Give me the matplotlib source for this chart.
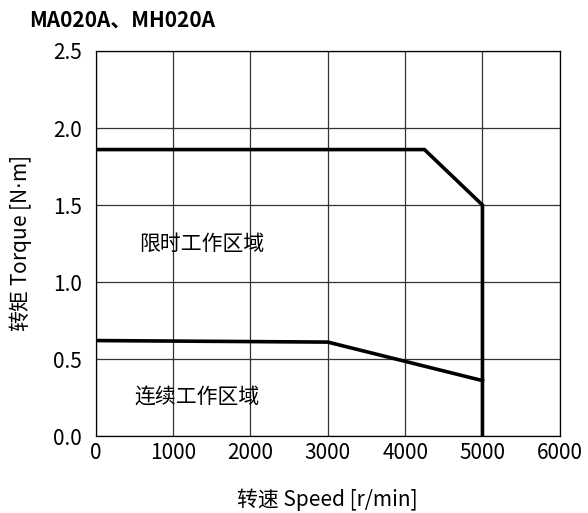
import matplotlib
matplotlib.use('Agg')
import matplotlib.pyplot as plt

plt.rcParams['font.family'] = ['Noto Sans CJK SC', 'DejaVu Sans']

# 转矩-转速特性数据
limit_speed = [0, 4250, 5000, 5000]
limit_torque = [1.86, 1.86, 1.50, 0.0]
cont_speed = [0, 3000, 5000]
cont_torque = [0.62, 0.61, 0.36]

x_ticks = [0, 1000, 2000, 3000, 4000, 5000, 6000]
y_ticks = [0.0, 0.5, 1.0, 1.5, 2.0, 2.5]

fig = plt.figure(figsize=(5.88, 5.13), dpi=100)
ax = fig.add_axes([0.163, 0.150, 0.789, 0.7506])

ax.plot(limit_speed, limit_torque, color='black', lw=2.6, solid_joinstyle='miter', zorder=3)
ax.plot(cont_speed, cont_torque, color='black', lw=2.6, solid_joinstyle='miter', zorder=3)

ax.set_xlim(0, 6000)
ax.set_ylim(0, 2.5)
ax.set_xticks(x_ticks)
ax.set_yticks(y_ticks)
ax.set_yticklabels([f'{v:.1f}' for v in y_ticks])
ax.grid(True, color='#333333', lw=0.9)
ax.tick_params(axis='both', length=0, labelsize=15)
ax.tick_params(axis='x', pad=4)
ax.tick_params(axis='y', pad=10)
for s in ax.spines.values():
    s.set_linewidth(0.9)

ax.text(560, 1.25, '限时工作区域', fontsize=15, va='center', ha='left')
ax.text(500, 0.25, '连续工作区域', fontsize=15, va='center', ha='left')

ax.set_xlabel('转速 Speed [r/min]', fontsize=15, labelpad=18)
ax.set_ylabel(r'转矩 Torque [N$\cdot$m]', fontsize=15, labelpad=14)
fig.text(0.05, 0.96, 'MA020A、MH020A', fontsize=15, fontweight='bold', va='center')

fig.savefig('out.png', dpi=100)
